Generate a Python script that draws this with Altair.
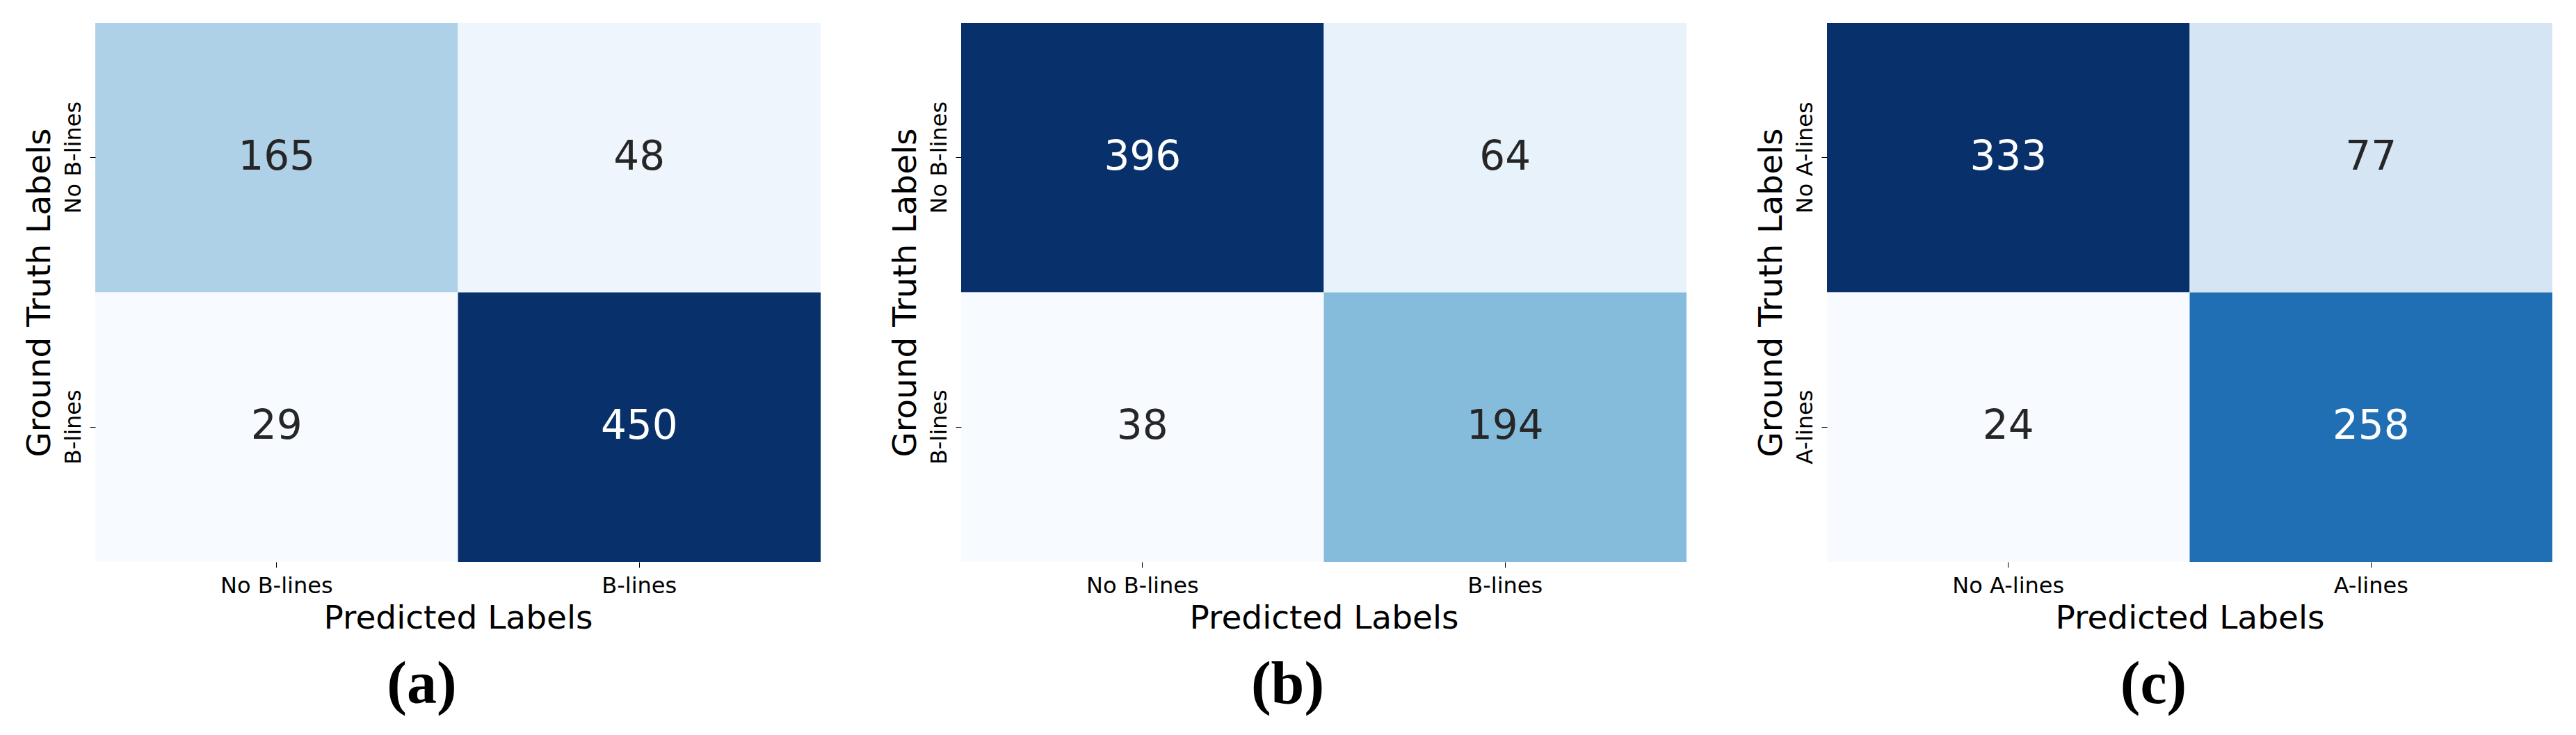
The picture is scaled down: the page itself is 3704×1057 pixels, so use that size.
import altair as alt
import pandas as pd

# ---- data ----
labels_a = ["No B-lines", "B-lines"]
counts_a = [[165, 48], [29, 450]]   # rows: ground truth, cols: predicted
labels_b = ["No B-lines", "B-lines"]
counts_b = [[396, 64], [38, 194]]
labels_c = ["No A-lines", "A-lines"]
counts_c = [[333, 77], [24, 258]]
captions = ["(a)", "(b)", "(c)"]

# matplotlib "Blues" colormap stops
BLUES = ["#f7fbff", "#deebf7", "#c6dbef", "#9ecae1", "#6baed6",
         "#4292c6", "#2171b5", "#08519c", "#08306b"]
STOPS = [i / 8 for i in range(9)]

W, H = 1043, 775


def panel(labels, counts, caption):
    rows = []
    for i, gt in enumerate(labels):
        for j, pr in enumerate(labels):
            rows.append({"gt": gt, "pred": pr, "n": counts[i][j]})
    df = pd.DataFrame(rows)

    base = alt.Chart(df).transform_joinaggregate(
        vmin="min(n)", vmax="max(n)"
    ).transform_calculate(
        t="(datum.n - datum.vmin) / (datum.vmax - datum.vmin)"
    )

    x = alt.X("pred:N", sort=labels, title="Predicted Labels",
              scale=alt.Scale(paddingInner=0, paddingOuter=0),
              axis=alt.Axis(labelAngle=0, labelPadding=11, titlePadding=8))
    y = alt.Y("gt:N", sort=labels, title="Ground Truth Labels",
              scale=alt.Scale(paddingInner=0, paddingOuter=0),
              axis=alt.Axis(labelAngle=-90, labelPadding=7, titlePadding=8))

    rect = base.mark_rect(strokeWidth=0).encode(
        x=x, y=y,
        color=alt.Color("t:Q", legend=None,
                        scale=alt.Scale(domain=STOPS, range=BLUES,
                                        interpolate="rgb")),
    )
    text = base.mark_text(font="DejaVu Sans", fontSize=58).encode(
        x=x, y=y,
        text=alt.Text("n:Q"),
        color=alt.condition("datum.t > 0.55", alt.value("#ffffff"),
                            alt.value("#262626")),
    )
    return alt.layer(rect, text).properties(
        width=W, height=H,
        title=alt.TitleParams(text=caption, orient="bottom", anchor="middle",
                              frame="bounds", font="Liberation Serif",
                              fontSize=86, fontWeight="bold", color="black",
                              offset=31),
    )


chart = alt.hconcat(
    panel(labels_a, counts_a, captions[0]),
    panel(labels_b, counts_b, captions[1]),
    panel(labels_c, counts_c, captions[2]),
    spacing=98,
).properties(
    padding={"left": 25, "top": 25, "right": 5, "bottom": 5},
).configure_view(stroke=None).configure_axis(
    labelFont="DejaVu Sans", labelFontSize=32, labelColor="black",
    titleFont="DejaVu Sans", titleFontSize=47, titleFontWeight="normal",
    titleColor="black", tickColor="black", tickSize=8, tickWidth=1,
    domain=False, grid=False,
)

chart.save("out.html", embed_options={"renderer": "svg", "actions": False})
